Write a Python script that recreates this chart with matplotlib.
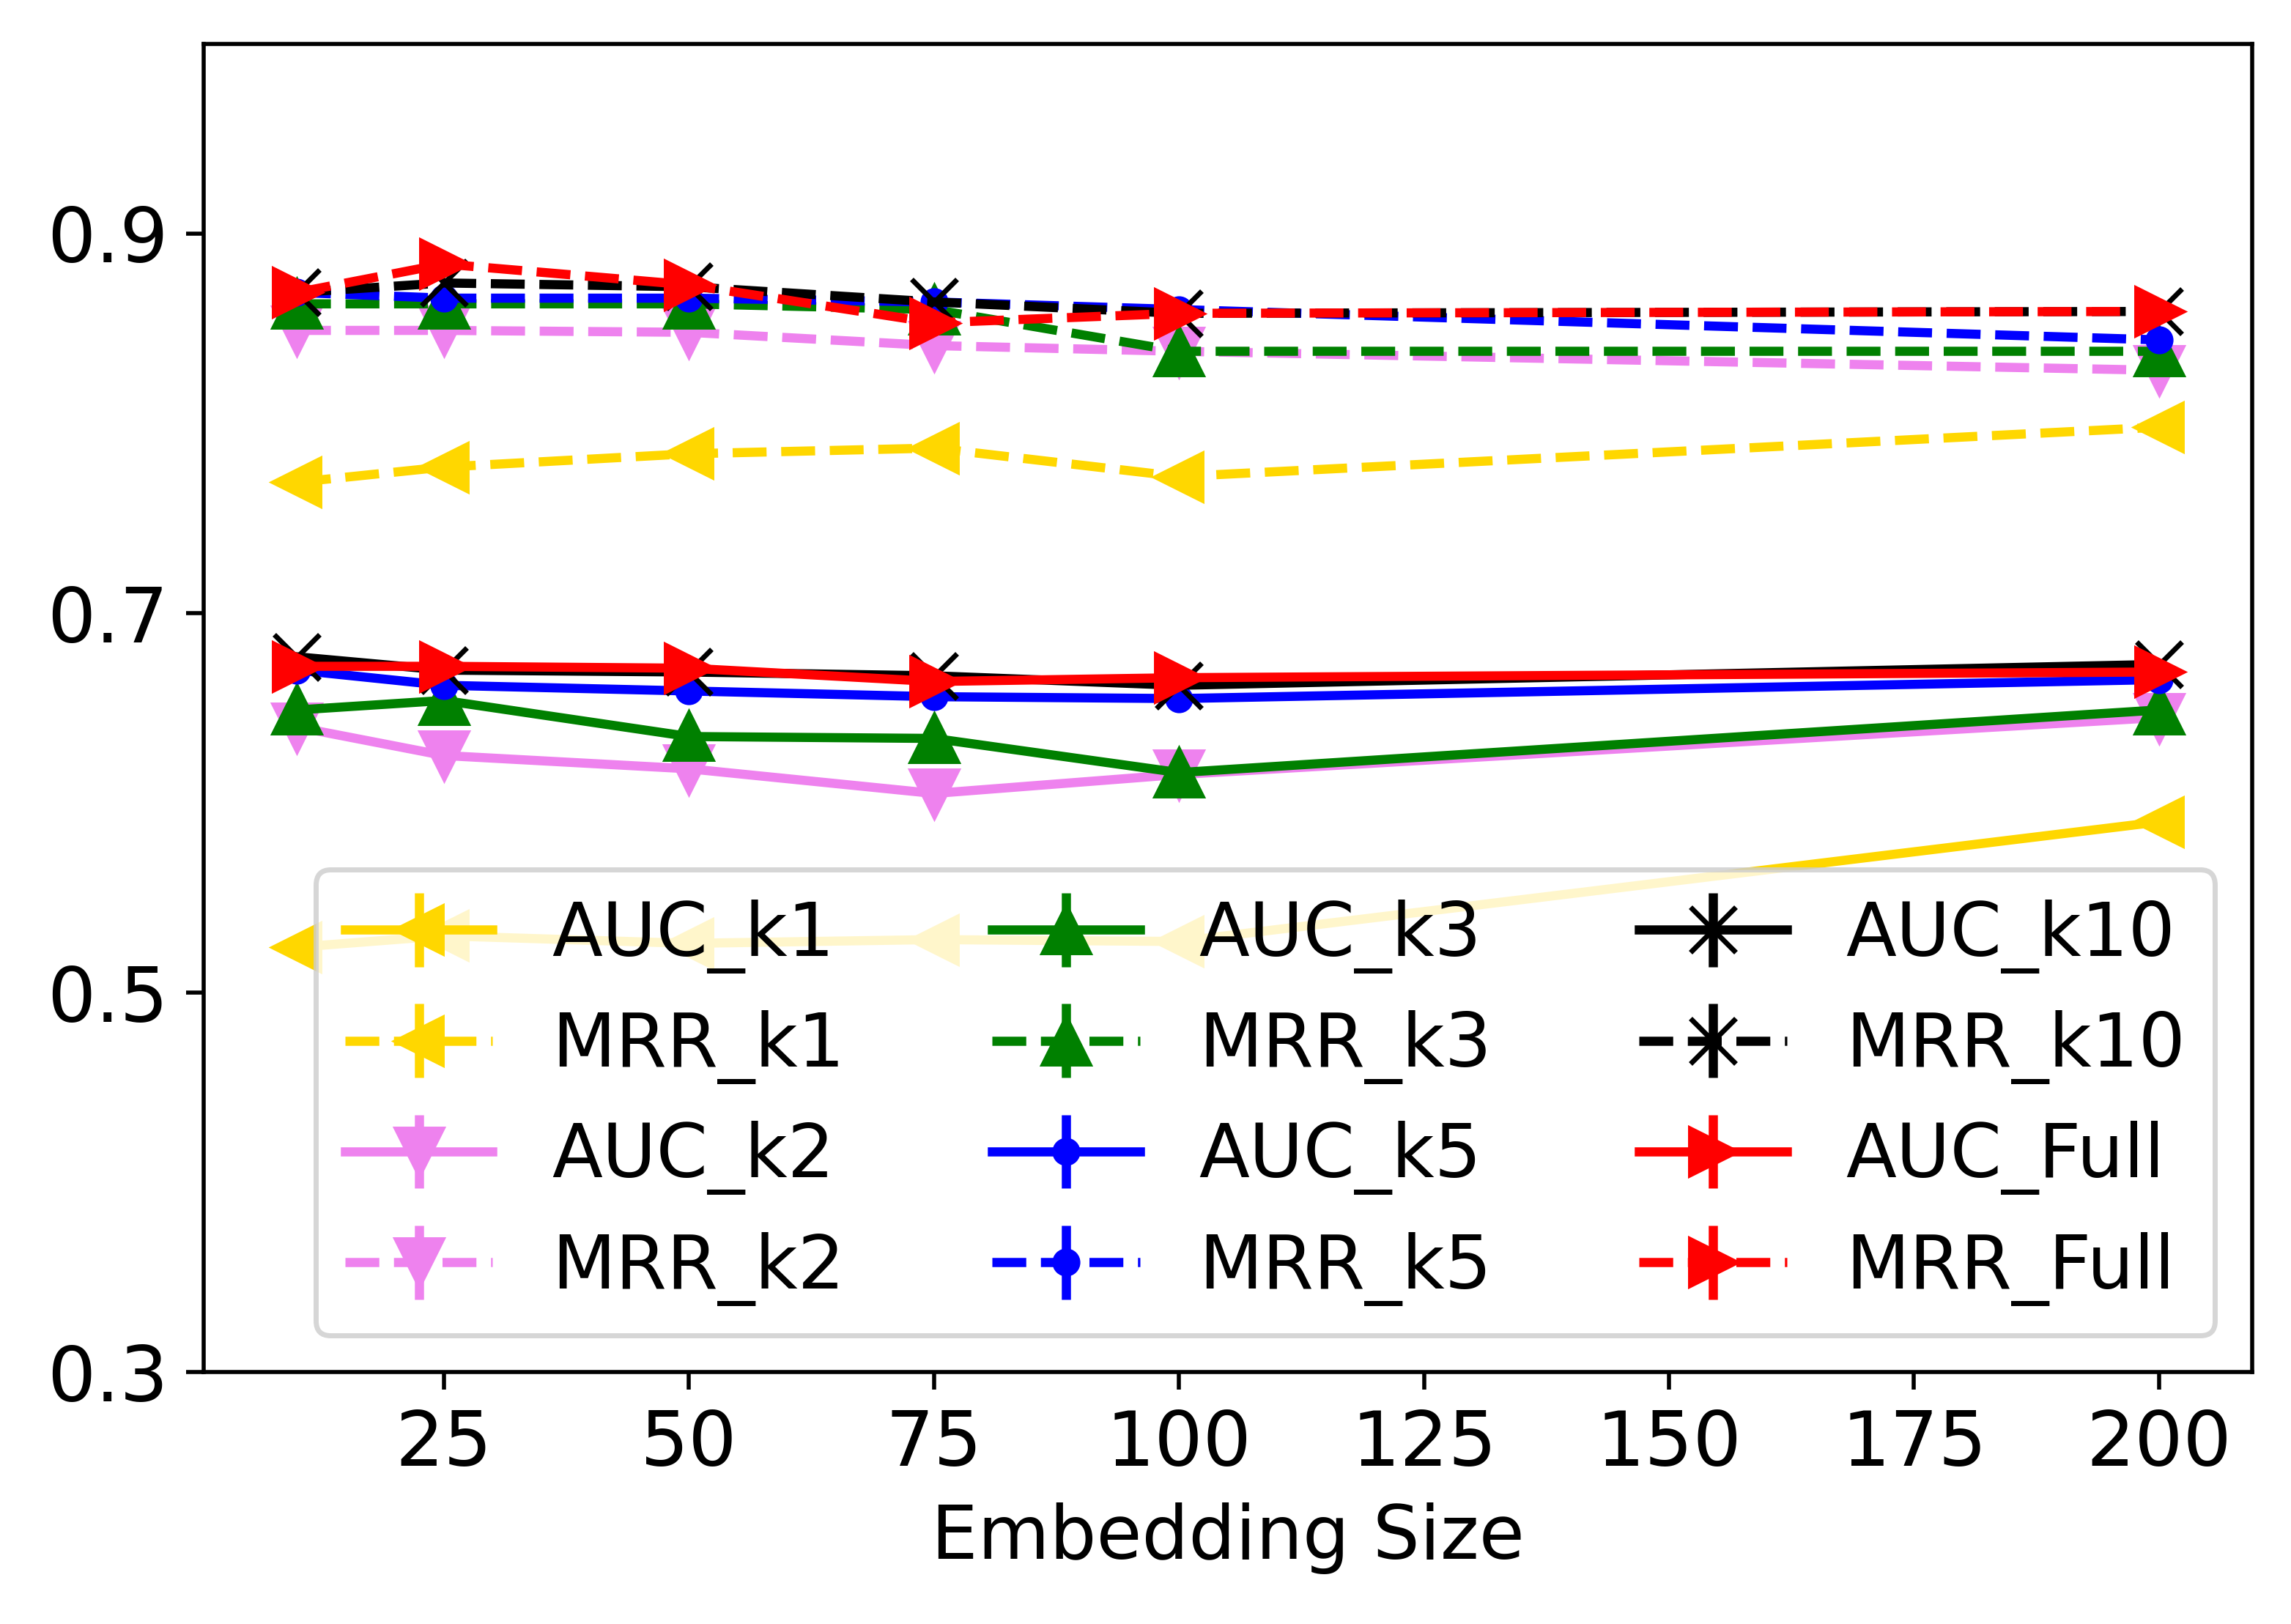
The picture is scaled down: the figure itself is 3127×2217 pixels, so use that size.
import matplotlib
matplotlib.use("Agg")
import matplotlib.pyplot as plt

# embedding sizes on the x axis
emb_sizes = [10, 25, 50, 75, 100, 200]
x_ticks = [25, 50, 75, 100, 125, 150, 175, 200]
y_ticks = [0.3, 0.5, 0.7, 0.9]

# scores
auc_k1 = [0.524, 0.530, 0.526, 0.528, 0.527, 0.590]
mrr_k1 = [0.769, 0.777, 0.784, 0.787, 0.772, 0.798]
auc_k2 = [0.640, 0.625, 0.618, 0.605, 0.615, 0.645]
mrr_k2 = [0.849, 0.849, 0.848, 0.841, 0.838, 0.828]
auc_k3 = [0.649, 0.654, 0.635, 0.634, 0.616, 0.649]
mrr_k3 = [0.863, 0.863, 0.863, 0.860, 0.838, 0.838]
auc_k5 = [0.670, 0.662, 0.659, 0.656, 0.655, 0.665]
mrr_k5 = [0.869, 0.866, 0.866, 0.864, 0.860, 0.844]
auc_k10 = [0.677, 0.670, 0.669, 0.667, 0.662, 0.673]
mrr_k10 = [0.869, 0.874, 0.872, 0.864, 0.858, 0.859]
auc_full = [0.672, 0.672, 0.671, 0.664, 0.666, 0.669]
mrr_full = [0.869, 0.884, 0.873, 0.853, 0.858, 0.859]

series = [
    ("AUC_k1", auc_k1, "gold", "<", "-"),
    ("MRR_k1", mrr_k1, "gold", "<", "--"),
    ("AUC_k2", auc_k2, "violet", "v", "-"),
    ("MRR_k2", mrr_k2, "violet", "v", "--"),
    ("AUC_k3", auc_k3, "green", "^", "-"),
    ("MRR_k3", mrr_k3, "green", "^", "--"),
    ("AUC_k5", auc_k5, "blue", ".", "-"),
    ("MRR_k5", mrr_k5, "blue", ".", "--"),
    ("AUC_k10", auc_k10, "black", "x", "-"),
    ("MRR_k10", mrr_k10, "black", "x", "--"),
    ("AUC_Full", auc_full, "red", ">", "-"),
    ("MRR_Full", mrr_full, "red", ">", "--"),
]

plt.rcParams["font.size"] = 14.5
fig = plt.figure(figsize=(3127 / 500, 2217 / 500), dpi=500)
ax = fig.add_axes([0.089, 0.155, 0.894, 0.818])

for name, vals, col, mk, ls in series:
    ax.errorbar(emb_sizes, vals, yerr=[0] * len(vals), label=name, color=col,
                marker=mk, linestyle=ls, linewidth=1.8, markersize=9)

ax.set_ylim(0.3, 1.0)
ax.set_yticks(y_ticks)
ax.set_xticks(x_ticks)
ax.tick_params(labelsize=15)
ax.set_xlabel("Embedding Size")
ax.legend(ncol=3, loc="lower right", fontsize=14.5)

fig.savefig("out.png", dpi=500, facecolor="white")
